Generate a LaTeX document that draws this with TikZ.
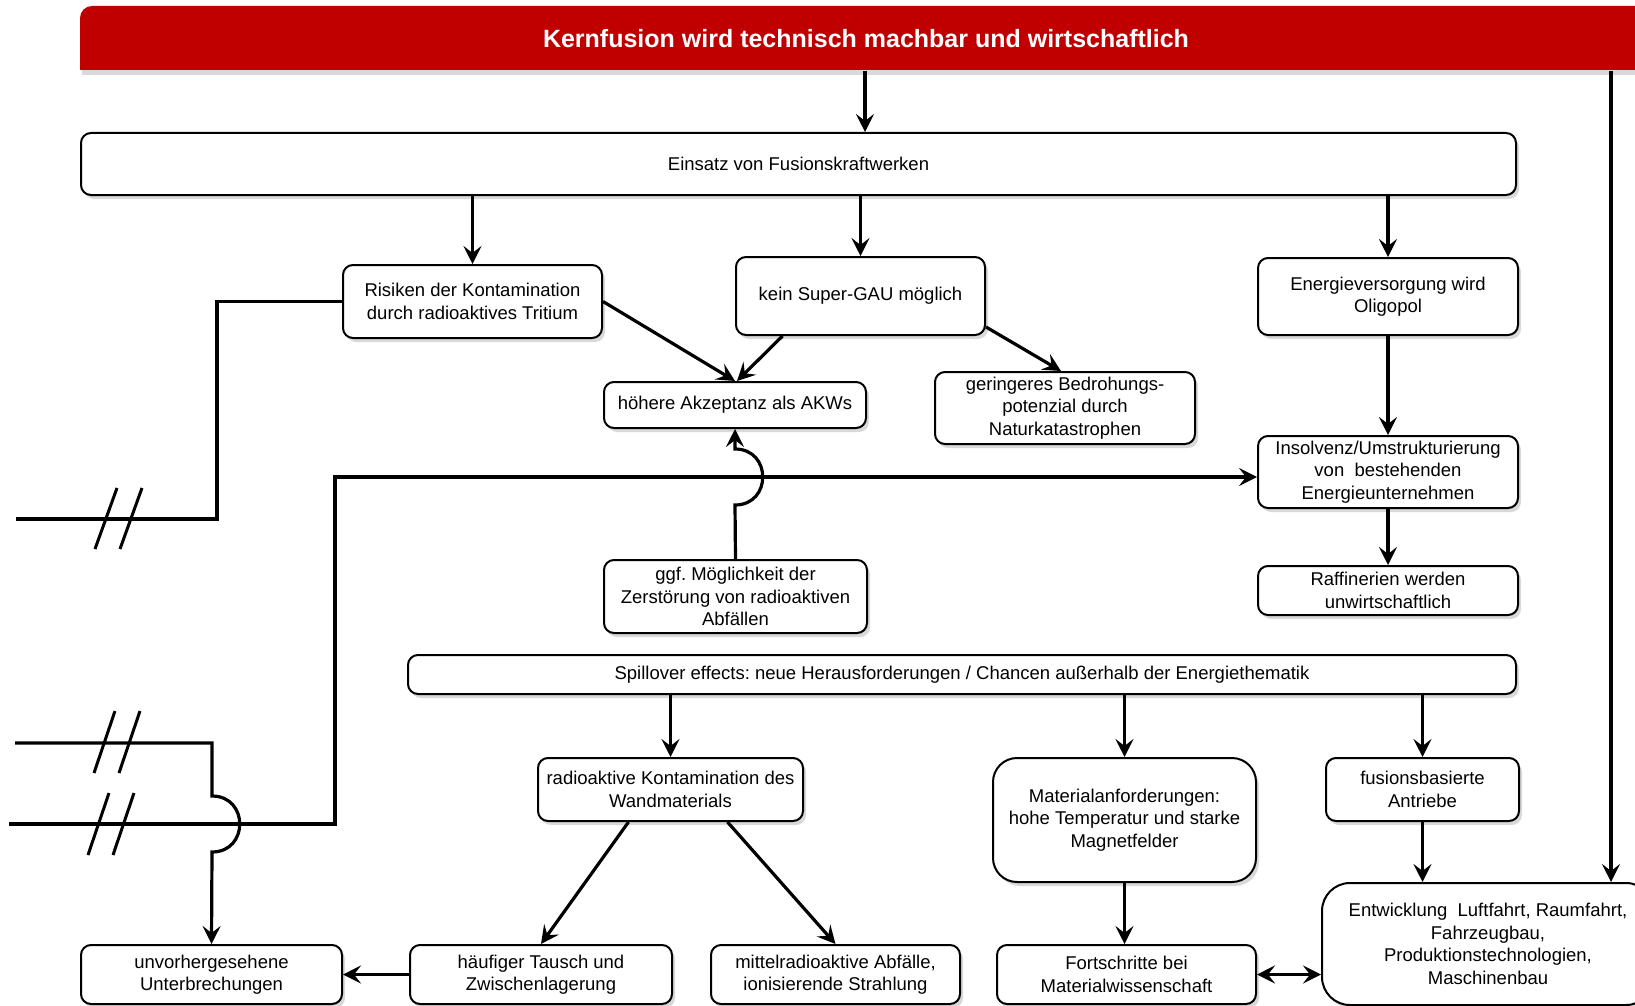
\documentclass[tikz,border=0pt]{standalone}
\usepackage{fontspec}
\setmainfont{Liberation Sans}
\usetikzlibrary{arrows.meta,shadows}
\definecolor{bannerred}{RGB}{192,0,0}
\frenchspacing
\begin{document}
\begin{tikzpicture}[x=1pt,y=-1pt,
  box/.style={draw=black, line width=2pt, rounded corners=10pt, fill=white, align=center,
    inner sep=0pt, font=\fontsize{18.5}{22.5}\selectfont,
    drop shadow={shadow xshift=3pt, shadow yshift=-4pt, opacity=0.3}},
  conn/.style={line width=3.2pt},
  tip/.tip={Stealth[length=18pt,width=18pt,inset=7pt]},
  arr/.style={conn, -tip},
  dblarr/.style={conn, tip-tip},
  brk/.style={line width=3pt}]
\useasboundingbox (0,0) rectangle (1635,1006);
\clip (0,0) rectangle (1635,1006);

% banner
\path[fill=bannerred, drop shadow={shadow xshift=2pt, shadow yshift=-5pt, opacity=0.3}]
  (80,70) [rounded corners=12pt] -- (80,6) -- (1660,6) [sharp corners] -- (1660,70) -- cycle;
\node[minimum width=1572pt, minimum height=64pt, inner sep=0pt, text=white,
  font=\fontsize{25}{30}\selectfont\bfseries] (banner) at (866,39)
  {Kernfusion wird technisch machbar und wirtschaftlich};

% nodes
\node[box, minimum width=1435pt, minimum height=62pt] (ein) at (798.5,164) {Einsatz von Fusionskraftwerken};
\node[box, minimum width=259pt, minimum height=73pt] (ris) at (472.5,301.5) {Risiken der Kontamination\\durch radioaktives Tritium};
\node[box, minimum width=249pt, minimum height=78pt] (kein) at (860.5,296) {kein Super-GAU möglich};
\node[box, minimum width=260pt, minimum height=77pt] (energ) at (1388,296.5) {Energieversorgung wird\\Oligopol};
\node[box, minimum width=262pt, minimum height=46pt] (hoeh) at (735,405) {höhere Akzeptanz als AKWs};
\node[box, minimum width=260pt, minimum height=72pt] (ger) at (1065,408) {geringeres Bedrohungs-\\potenzial durch\\Naturkatastrophen};
\node[box, minimum width=260pt, minimum height=72pt] (insol) at (1388,472) {Insolvenz/Umstrukturierung\\von\ \ bestehenden\\Energieunternehmen};
\node[box, minimum width=263pt, minimum height=73pt] (ggf) at (735.5,596.5) {ggf. Möglichkeit der\\Zerstörung von radioaktiven\\Abfällen};
\node[box, minimum width=260pt, minimum height=49pt] (raff) at (1388,590.5) {Raffinerien werden\\unwirtschaftlich};
\node[box, minimum width=1108pt, minimum height=39pt] (spill) at (962,674.5) {Spillover effects: neue Herausforderungen / Chancen außerhalb der Energiethematik};
\node[box, minimum width=265pt, minimum height=63pt] (rkont) at (670.5,789.5) {radioaktive Kontamination des\\Wandmaterials};
\node[box, rounded corners=24pt, minimum width=263pt, minimum height=124pt] (matanf) at (1124.5,820) {Materialanforderungen:\\hohe Temperatur und starke\\Magnetfelder};
\node[box, minimum width=193pt, minimum height=63pt] (fusant) at (1422.5,789.5) {fusionsbasierte\\Antriebe};
\node[box, rounded corners=28pt, minimum width=332pt, minimum height=122pt] (entw) at (1488,944) {Entwicklung\ \ Luftfahrt, Raumfahrt,\\Fahrzeugbau,\\Produktionstechnologien,\\Maschinenbau};
\node[box, minimum width=261pt, minimum height=59pt] (unv) at (211.5,974.5) {unvorhergesehene\\Unterbrechungen};
\node[box, minimum width=262pt, minimum height=59pt] (haeuf) at (541,974.5) {häufiger Tausch und\\Zwischenlagerung};
\node[box, minimum width=249pt, minimum height=59pt] (mittel) at (835.5,974.5) {mittelradioaktive Abfälle,\\ionisierende Strahlung};
\node[box, minimum width=259pt, minimum height=59pt] (fort) at (1126.5,974.5) {Fortschritte bei\\Materialwissenschaft};

% helper coordinates
\coordinate (cx1) at (865,0);
\coordinate (cx2) at (1611,0);
\coordinate (brkA) at (16,519);
\coordinate (brkB) at (15,743);
\coordinate (brkC) at (9,824);
\coordinate (hl) at (335,477);

% connectors
\draw[arr] (banner.south -| cx1) -- (ein.north -| cx1);
\draw[arr] (banner.south -| cx2) -- (entw.north -| cx2);
\draw[arr] (ein.south -| ris.north) -- (ris.north);
\draw[arr] (ein.south -| kein.north) -- (kein.north);
\draw[arr] (ein.south -| energ.north) -- (energ.north);
\draw[arr] (ris.east) -- (hoeh.north);
\draw[arr] ([xshift=-78pt]kein.south) -- ([xshift=2pt]hoeh.north);
\draw[arr] ([yshift=-31pt]kein.east) -- ([xshift=-4pt]ger.north);
\draw[arr] (energ.south) -- (insol.north);
\draw[arr] (insol.south) -- (raff.north);
\draw[arr] (ggf.north) -- (735,505) .. controls (772,505) and (772,449) .. (735,449) -- (hoeh.south);
\draw[arr] (brkC) -- (335,824) -- (hl) -- (hl -| insol.west);
\draw[conn] (ris.west) -| (217,519) -- (brkA);
\draw[arr] (brkB) -- (212,743) -- (212,796) .. controls (249,796) and (249,852) .. (212,852) -- (unv.north);
\draw[arr] (spill.south -| rkont.north) -- (rkont.north);
\draw[arr] (spill.south -| matanf.north) -- (matanf.north);
\draw[arr] (spill.south -| fusant.north) -- (fusant.north);
\draw[arr] ([xshift=-42pt]rkont.south) -- (haeuf.north);
\draw[arr] ([xshift=57pt]rkont.south) -- (mittel.north);
\draw[arr] (matanf.south) -- (matanf.south |- fort.north);
\draw[arr] (fusant.south) -- (fusant.south |- entw.north);
\draw[dblarr] (fort.east) -- (fort.east -| entw.west);
\draw[arr] (haeuf.west) -- (unv.east);

% break marks
\draw[brk] (95,549) -- (117,488) (120,549) -- (142,488);
\draw[brk] (94,773) -- (115,711) (119,773) -- (140,711);
\draw[brk] (88,855) -- (109,793) (113,855) -- (134,793);
\end{tikzpicture}
\end{document}
